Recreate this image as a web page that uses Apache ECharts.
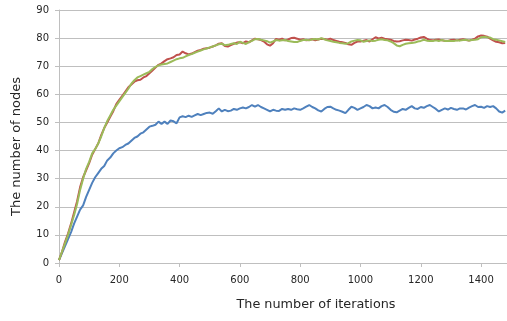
<!DOCTYPE html>
<html>
<head>
<meta charset="utf-8">
<script src="https://cdn.jsdelivr.net/npm/echarts@6/dist/echarts.min.js"></script>
<style>html,body{margin:0;padding:0;background:#fff}#c{width:507px;height:321px}</style>
</head>
<body>
<div id="c"></div>
<script>
// iterations step between samples
var STEP = 10;
var yTicks = [0,10,20,30,40,50,60,70,80,90];
var xTicks = [0,200,400,600,800,1000,1200,1400];

var blue = [
1, 3.5, 6, 8.5, 11, 14, 16.5, 19, 20.5, 23.5,
26, 28.5, 30.5, 32, 33.5, 34.5, 36.5, 37.5, 39, 40,
40.8, 41.2, 42, 42.5, 43.5, 44.5, 45, 46, 46.5, 47.5,
48.5, 48.8, 49.2, 50.3, 49.5, 50.3, 49.5, 50.7, 50.4, 49.7,
51.8, 52.2, 51.9, 52.4, 52, 52.5, 53, 52.6, 53, 53.4,
53.5, 53.1, 54, 55, 53.9, 54.5, 54, 54.2, 54.8, 54.5,
55, 55.3, 55, 55.5, 56.2, 55.6, 56.2, 55.5, 55, 54.5,
53.9, 54.5, 54.2, 54.1, 54.8, 54.5, 54.8, 54.5, 55, 54.7,
54.5, 55, 55.6, 56.2, 55.5, 55, 54.3, 53.9, 54.8, 55.5,
55.6, 55, 54.5, 54.2, 53.8, 53.3, 54.5, 55.6, 55.2, 54.5,
55, 55.5, 56.2, 55.8, 55, 55.3, 55, 55.8, 56.2, 55.5,
54.5, 53.8, 53.6, 54.2, 54.8, 54.5, 55.2, 55.8, 55, 54.8,
55.5, 55.2, 55.8, 56.2, 55.5, 54.8, 53.9, 54.5, 55, 54.6,
55.2, 54.8, 54.5, 55, 55, 54.6, 55.3, 55.8, 56.2, 55.5,
55.6, 55.2, 55.8, 55.5, 55.8, 55, 53.9, 53.5, 54.2
];
var red = [
1, 4, 7.5, 10.5, 14, 18, 22, 27, 30.5, 33,
35.5, 38.5, 40.5, 42.5, 45.5, 48, 50, 52, 54, 56.5,
58, 59.5, 61, 62.5, 63.5, 64.5, 65, 65.2, 66, 66.5,
67.5, 68.5, 69.5, 70.5, 71, 71.8, 72.5, 72.8, 73.2, 74,
74.2, 75.2, 74.6, 74.2, 74.5, 75, 75.5, 75.8, 76.2, 76.4,
76.6, 77, 77.4, 78, 78.2, 77.2, 77, 77.5, 78, 78.4,
78.5, 78.2, 78.8, 78.5, 79.2, 79.8, 79.6, 79.3, 78.8, 77.8,
77.3, 78.2, 79.7, 79.4, 79.8, 79.2, 79.5, 80, 80.1, 79.8,
79.4, 79.6, 79.2, 79.3, 79.6, 79.2, 79.5, 79.8, 79.7, 79.4,
79.8, 79.3, 79, 78.7, 78.5, 78.3, 77.8, 77.6, 78.3, 78.8,
78.8, 79.1, 79.3, 78.8, 79.6, 80.3, 79.9, 80.1, 79.8, 79.6,
79.4, 79, 78.8, 78.9, 79.2, 79.4, 79.3, 79.1, 79.5, 79.8,
80.2, 80.4, 79.8, 79.3, 79.2, 79.4, 79.5, 79.2, 79.1, 79,
79.3, 79.4, 79.2, 79.4, 79.6, 79.3, 79.1, 79.4, 79.8, 80.6,
80.9, 80.8, 80.5, 79.8, 79.2, 78.7, 78.5, 78.2, 78.3
];
var green = [
1, 4, 7, 10, 13.5, 17, 21, 26, 30, 33.5,
36, 39, 40.5, 42.5, 45, 48, 50.5, 52.5, 54.5, 56,
57.5, 59, 60.5, 62, 63.8, 65, 66, 66.5, 67, 67.5,
68, 69, 69.8, 70.3, 70.6, 70.8, 71, 71.5, 72, 72.5,
72.8, 73, 73.5, 74, 74.3, 74.8, 75.2, 75.6, 76, 76.3,
76.7, 77, 77.4, 77.8, 78, 77.5, 77.6, 77.9, 78.2, 77.9,
78.7, 78.3, 77.9, 78.6, 79, 79.6, 79.7, 79.4, 79.2, 78.9,
78.4, 78.8, 79.3, 79.1, 79.2, 79.3, 79, 78.8, 78.6, 78.6,
79, 79.3, 79.4, 79.2, 79.6, 79.7, 79.5, 80, 79.6, 79.2,
79, 78.7, 78.5, 78.3, 78.2, 78, 78.2, 78.8, 79.1, 79.3,
79.2, 78.7, 79, 79.2, 79, 79.1, 79.4, 79.6, 79.3, 79.2,
78.8, 78.2, 77.4, 77.1, 77.6, 78, 78.2, 78.3, 78.4, 78.8,
79, 79.4, 79.1, 79, 79, 79.2, 79, 79.3, 79, 79.1,
79, 79, 79.2, 79.1, 79.3, 79.4, 79.1, 79.3, 79.4, 79.6,
80.3, 80.5, 80.3, 80.2, 79.6, 79.4, 79.2, 78.9, 78.6
];

function pairs(arr){ return arr.map(function(v,i){ return [i*STEP, v]; }); }

var chart = echarts.init(document.getElementById('c'), null, {renderer:'canvas'});
var FONT = 'DejaVu Sans';
chart.setOption({
  animation: false,
  backgroundColor: '#ffffff',
  grid: {left: 59, right: 0, top: 10, bottom: 58, containLabel: false},
  xAxis: {
    type: 'value', min: xTicks[0], max: 1486, interval: 200,
    name: 'The number of iterations', nameLocation: 'middle', nameGap: 35,
    nameTextStyle: {fontFamily: FONT, fontSize: 12.8, color: '#262626', padding: [0,0,0,66]},
    axisLine: {show: true, lineStyle: {color: '#bfbfbf', width: 1}},
    axisTick: {show: true, length: 4, lineStyle: {color: '#bfbfbf'}},
    axisLabel: {fontFamily: FONT, fontSize: 10, color: '#262626', margin: 12, showMaxLabel: false,
      formatter: function(v){ return String(v); }},
    splitLine: {show: false}
  },
  yAxis: {
    type: 'value', min: yTicks[0], max: yTicks[yTicks.length-1], interval: 10,
    name: 'The number of nodes', nameLocation: 'middle', nameGap: 36,
    nameTextStyle: {fontFamily: FONT, fontSize: 13, color: '#262626', padding: [0,20,0,0]},
    axisLine: {show: true, lineStyle: {color: '#bfbfbf', width: 1}},
    axisTick: {show: true, length: 4, lineStyle: {color: '#bfbfbf'}},
    axisLabel: {fontFamily: FONT, fontSize: 10, color: '#262626', margin: 10,
      formatter: function(v){ return String(v); }},
    splitLine: {show: true, lineStyle: {color: '#bfbfbf', width: 1}}
  },
  series: [
    {type: 'line', data: pairs(blue), showSymbol: false, symbol: 'none', lineStyle: {color: '#4f81bd', width: 2}, itemStyle: {color: '#4f81bd'}},
    {type: 'line', data: pairs(red), showSymbol: false, symbol: 'none', lineStyle: {color: '#c0504d', width: 2}, itemStyle: {color: '#c0504d'}},
    {type: 'line', data: pairs(green), showSymbol: false, symbol: 'none', lineStyle: {color: '#9bbb59', width: 2}, itemStyle: {color: '#9bbb59'}}
  ]
});
</script>
</body>
</html>
